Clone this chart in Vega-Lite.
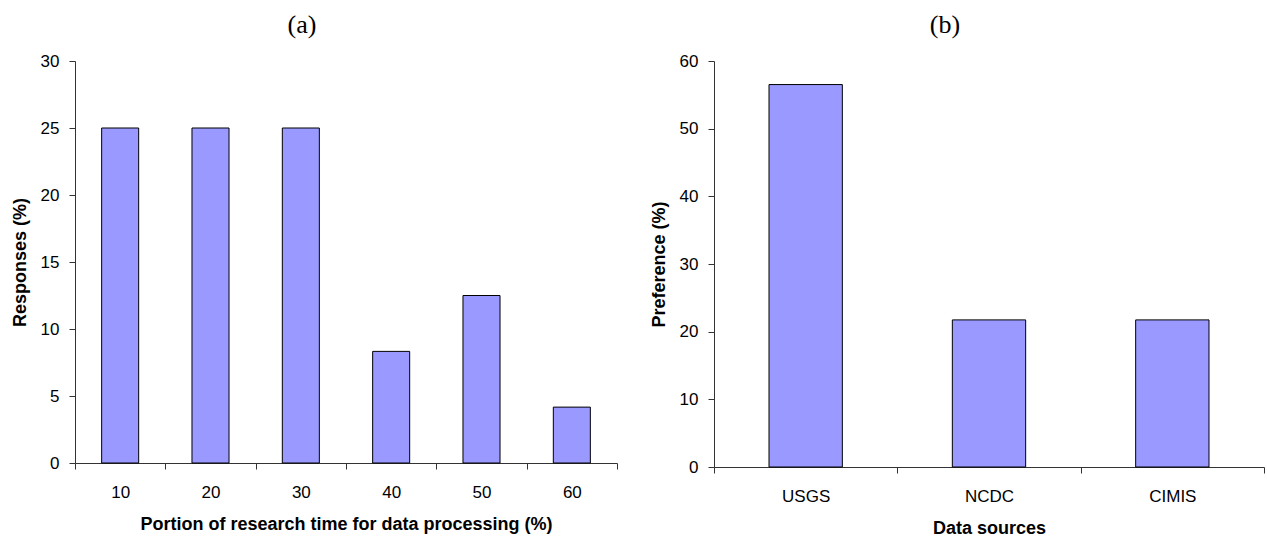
{
  "$schema": "https://vega.github.io/schema/vega-lite/v6.json",
  "padding": {"left": 11, "top": 12, "right": 0, "bottom": 0},
  "background": "white",
  "spacing": 32,
  "config": {
    "view": {"stroke": null},
    "axis": {
      "labelFont": "Liberation Sans",
      "labelFontSize": 17,
      "labelColor": "#000",
      "titleFont": "Liberation Sans",
      "titleFontSize": 18,
      "titleFontWeight": "bold",
      "titleColor": "#000",
      "grid": false,
      "tickSize": 6,
      "domainColor": "#333",
      "tickColor": "#333"
    },
    "title": {
      "font": "Liberation Serif",
      "fontSize": 26,
      "fontWeight": "normal",
      "color": "#000",
      "anchor": "middle",
      "dx": -44,
      "offset": 14
    }
  },
  "hconcat": [
    {
      "title": "(a)",
      "width": 542,
      "height": 402,
      "data": {"values": [
        {"portion": "10", "responses": 25},
        {"portion": "20", "responses": 25},
        {"portion": "30", "responses": 25},
        {"portion": "40", "responses": 8.33},
        {"portion": "50", "responses": 12.5},
        {"portion": "60", "responses": 4.17}
      ]},
      "mark": {"type": "bar", "fill": "#9999FF", "stroke": "#000", "strokeWidth": 1, "width": {"band": 0.41}},
      "encoding": {
        "x": {
          "field": "portion", "type": "ordinal", "sort": null,
          "scale": {"paddingInner": 0, "paddingOuter": 0},
          "axis": {"title": "Portion of research time for data processing (%)", "labelAngle": 0, "tickBand": "extent", "labelPadding": 15, "titlePadding": 15}
        },
        "y": {
          "field": "responses", "type": "quantitative",
          "scale": {"domain": [0, 30], "nice": false},
          "axis": {"values": [0, 5, 10, 15, 20, 25, 30], "title": "Responses (%)", "labelPadding": 10, "titlePadding": 11}
        }
      }
    },
    {
      "title": "(b)",
      "width": 550,
      "height": 406,
      "data": {"values": [
        {"source": "USGS", "preference": 56.52},
        {"source": "NCDC", "preference": 21.74},
        {"source": "CIMIS", "preference": 21.74}
      ]},
      "mark": {"type": "bar", "fill": "#9999FF", "stroke": "#000", "strokeWidth": 1, "width": {"band": 0.4}},
      "encoding": {
        "x": {
          "field": "source", "type": "nominal", "sort": null,
          "scale": {"paddingInner": 0, "paddingOuter": 0},
          "axis": {"title": "Data sources", "labelAngle": 0, "tickBand": "extent", "labelPadding": 15, "titlePadding": 15}
        },
        "y": {
          "field": "preference", "type": "quantitative",
          "scale": {"domain": [0, 60], "nice": false},
          "axis": {"values": [0, 10, 20, 30, 40, 50, 60], "title": "Preference (%)", "labelPadding": 10, "titlePadding": 11}
        }
      }
    }
  ]
}
